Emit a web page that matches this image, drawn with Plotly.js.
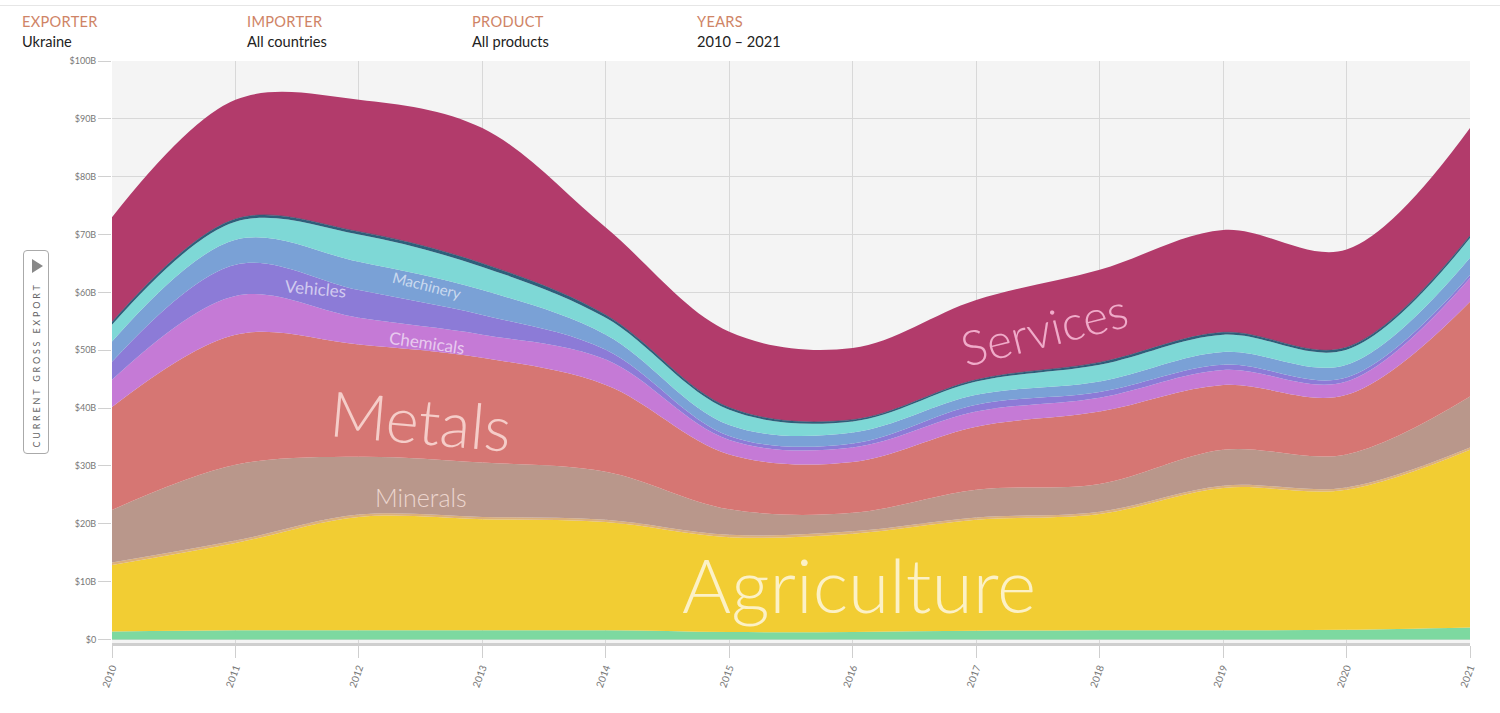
<!DOCTYPE html>
<html>
<head>
<meta charset="utf-8">
<script src="https://cdn.plot.ly/plotly-3.0.1.min.js"></script>
<style>
  html, body { margin: 0; padding: 0; background: #fff; width: 1500px; height: 713px; overflow: hidden; font-family: Lato, "Open Sans", sans-serif; }
  #topline { position: absolute; left: 0; top: 5px; width: 1500px; height: 1px; background: #e6e6e6; }
  .hdr { position: absolute; top: 13px; font-size: 14.6px; }
  .hdr .k { color: #cf8466; letter-spacing: 0.3px; }
  .hdr .v { color: #222; margin-top: 3px; }
  #chart { position: absolute; left: 0; top: 0; width: 1500px; height: 713px; }
  #btn { position: absolute; left: 23px; top: 250px; width: 26px; height: 204px; border: 1px solid #aaa; border-radius: 4px; background: #fff; box-sizing: border-box; }
  #btn .tri { position: absolute; left: 8px; top: 8px; width: 0; height: 0; border-top: 7px solid transparent; border-bottom: 7px solid transparent; border-left: 11px solid #888; }
  #btn .lbl { position: absolute; left: 50%; top: 114px; transform: translate(-50%, -50%) rotate(-90deg); white-space: nowrap; font-size: 9px; letter-spacing: 2.8px; color: #666; }
</style>
</head>
<body>
<div id="topline"></div>
<div class="hdr" style="left:22px"><div class="k">EXPORTER</div><div class="v">Ukraine</div></div>
<div class="hdr" style="left:247px"><div class="k">IMPORTER</div><div class="v">All countries</div></div>
<div class="hdr" style="left:472px"><div class="k">PRODUCT</div><div class="v">All products</div></div>
<div class="hdr" style="left:697px"><div class="k">YEARS</div><div class="v">2010 – 2021</div></div>
<div id="chart"></div>
<div id="btn"><div class="tri"></div><div class="lbl">CURRENT GROSS EXPORT</div></div>
<script>
// Years
const years = [2010, 2011, 2012, 2013, 2014, 2015, 2016, 2017, 2018, 2019, 2020, 2021];

// Export values by sector, in billions of USD
const textiles    = [1.4, 1.6, 1.6, 1.6, 1.6, 1.3, 1.3, 1.5, 1.6, 1.6, 1.7, 2.1];
const agriculture = [11.5, 15.1, 19.6, 19.2, 18.7, 16.4, 17.0, 19.2, 20.1, 24.6, 24.2, 30.7];
const stone       = [0.4, 0.4, 0.4, 0.4, 0.4, 0.4, 0.4, 0.4, 0.4, 0.4, 0.4, 0.4];
const minerals    = [9.1, 13.1, 10.0, 9.4, 8.3, 4.4, 3.2, 4.8, 4.8, 6.2, 5.7, 8.8];
const metals      = [17.8, 22.5, 19.4, 18.1, 15.0, 9.5, 8.8, 10.9, 12.5, 11.2, 10.3, 16.4];
const chemicals   = [4.7, 6.7, 4.6, 4.0, 4.4, 2.5, 2.5, 2.6, 2.4, 2.6, 2.3, 4.1];
const vehicles    = [3.1, 5.4, 4.8, 3.4, 1.7, 0.7, 0.7, 1.2, 1.0, 0.9, 0.7, 0.5];
const machinery   = [3.5, 4.3, 4.9, 4.3, 2.6, 1.9, 1.9, 1.7, 1.8, 2.2, 2.2, 3.0];
const electronics = [2.9, 3.1, 4.7, 4.0, 2.9, 2.6, 1.9, 2.3, 2.9, 3.0, 2.6, 3.4];
const other       = [0.5, 0.5, 0.5, 0.6, 0.5, 0.4, 0.3, 0.3, 0.4, 0.4, 0.4, 0.4];
const services    = [18.1, 20.6, 22.8, 23.4, 15.1, 13.1, 12.4, 13.8, 16.0, 17.7, 16.9, 18.6];

const sectorNames  = ["Textiles", "Agriculture", "Stone", "Minerals", "Metals", "Chemicals", "Vehicles", "Machinery", "Electronics", "Other", "Services"];
const sectorValues = [textiles, agriculture, stone, minerals, metals, chemicals, vehicles, machinery, electronics, other, services];
const sectorColors = ["#7dd9a0", "#f2cd33", "#dcb07a", "#b9978b", "#d67673", "#c57ad6", "#8c7bd7", "#7aa1d6", "#7ed8d6", "#2d5f7a", "#b23b6b"];

const yTickVals  = [0, 10, 20, 30, 40, 50, 60, 70, 80, 90, 100];
const yTickTexts = ["$0", "$10B", "$20B", "$30B", "$40B", "$50B", "$60B", "$70B", "$80B", "$90B", "$100B"];

const traces = sectorNames.map((name, i) => ({
  type: "scatter",
  mode: "lines",
  name: name,
  x: years,
  y: sectorValues[i],
  stackgroup: "one",
  line: { shape: "spline", smoothing: 1.0, width: name === "Other" ? 0.6 : 0, color: sectorColors[i] },
  fillcolor: sectorColors[i],
  hoverinfo: "x+y+name"
}));

const lab = "rgba(255,255,255,0.62)";
const annotations = [
  { text: "Agriculture", x: 2016.05, y: 9.6, font: { size: 75, color: "rgba(255,255,255,0.72)", family: "Lato", weight: 300 }, textangle: 0 },
  { text: "Metals", x: 2012.5, y: 38.0, font: { size: 63, color: "rgba(255,235,230,0.75)", family: "Lato", weight: 300 }, textangle: 5 },
  { text: "Minerals", x: 2012.5, y: 24.7, font: { size: 25, color: "rgba(255,235,230,0.75)", family: "Lato", weight: 300 }, textangle: 0 },
  { text: "Services", x: 2017.55, y: 53.8, font: { size: 48, color: "rgba(255,200,225,0.8)", family: "Lato", weight: 300 }, textangle: -14 },
  { text: "Vehicles", x: 2011.65, y: 60.6, font: { size: 17, color: lab, family: "Lato" }, textangle: 5 },
  { text: "Machinery", x: 2012.55, y: 61.3, font: { size: 15, color: lab, family: "Lato" }, textangle: 14 },
  { text: "Chemicals", x: 2012.55, y: 51.3, font: { size: 17, color: lab, family: "Lato" }, textangle: 8 }
].map(a => Object.assign({ xref: "x", yref: "y", showarrow: false, xanchor: "center", yanchor: "middle" }, a));

const layout = {
  width: 1500,
  height: 713,
  margin: { l: 112, r: 30, t: 61, b: 70 },
  paper_bgcolor: "rgba(0,0,0,0)",
  plot_bgcolor: "#f4f4f4",
  showlegend: false,
  font: { family: "Lato, 'Open Sans', sans-serif", color: "#777" },
  xaxis: {
    range: [2010, 2021],
    tickvals: years,
    ticktext: years.map(String),
    tickangle: -70,
    tickfont: { size: 10, color: "#777" },
    showgrid: true,
    gridcolor: "#d8d8d8",
    gridwidth: 1,
    zeroline: false,
    showline: true,
    linecolor: "#cfcfcf",
    linewidth: 3,
    ticks: "outside",
    ticklen: 12,
    tickcolor: "#cfcfcf",
    tickwidth: 1
  },
  yaxis: {
    range: [-0.6, 100],
    tickvals: yTickVals,
    ticktext: yTickTexts,
    tickfont: { size: 9, color: "#777" },
    showgrid: true,
    gridcolor: "#d8d8d8",
    gridwidth: 1,
    zeroline: false,
    showline: false,
    ticks: "outside",
    ticklen: 13,
    tickcolor: "#d0d0d0",
    tickwidth: 1
  },
  annotations: annotations
};

Plotly.newPlot("chart", traces, layout, { displayModeBar: false, staticPlot: true });
</script>
</body>
</html>
